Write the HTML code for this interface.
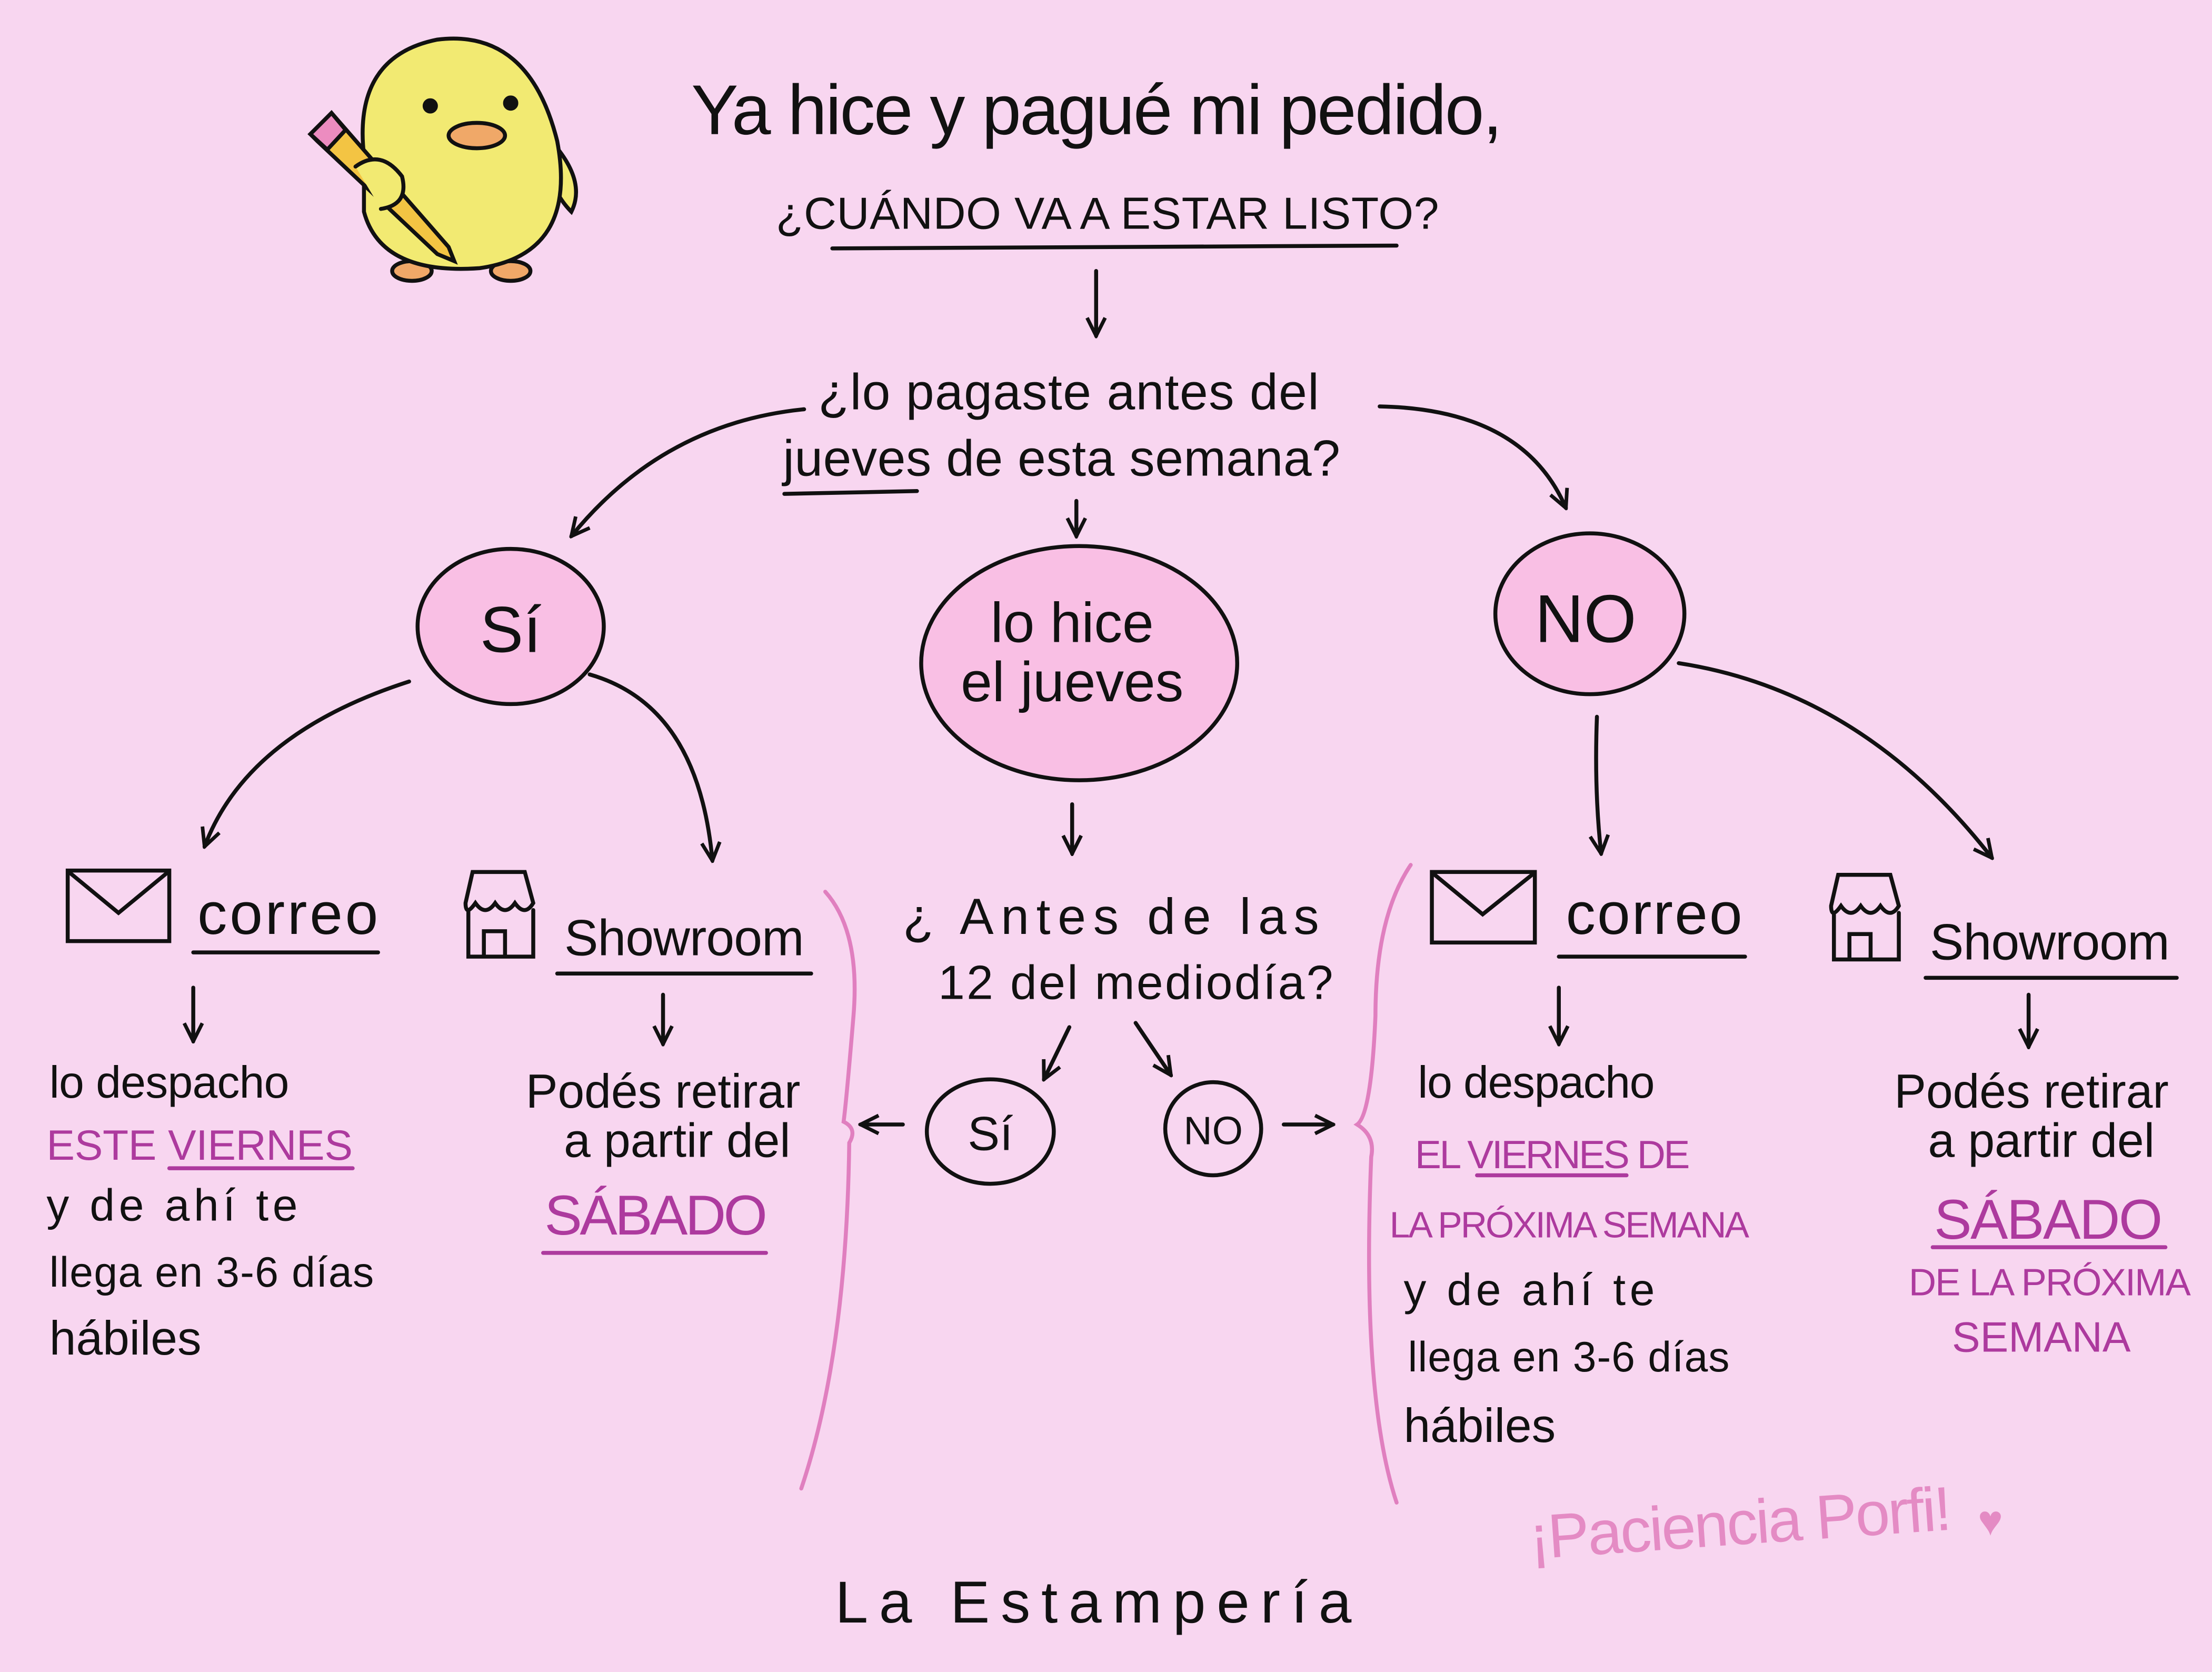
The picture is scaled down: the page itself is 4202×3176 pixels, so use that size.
<!DOCTYPE html>
<html><head><meta charset="utf-8"><style>
html,body{margin:0;padding:0;background:#f8d6f0;}
svg{display:block;}
text{font-family:"Liberation Sans",sans-serif;fill:#111;}
.p{fill:#ad3a9e;}
</style></head><body>
<svg width="4202" height="3176" viewBox="0 0 1568 1185" xmlns="http://www.w3.org/2000/svg">
<rect width="1568" height="1185" fill="#f8d6f0"/>
<defs><marker id="a" viewBox="0 0 10 10" refX="9" refY="5" markerWidth="16" markerHeight="16" orient="auto-start-reverse" markerUnits="userSpaceOnUse"><path d="M1,1 L9,5 L1,9" fill="none" stroke="#111" stroke-width="1.6"/></marker></defs>
<g fill="none" stroke="#111" stroke-width="2.8" stroke-linecap="round">
<!-- duck -->
<ellipse cx="292" cy="192" rx="14" ry="7" fill="#f0a868"/>
<ellipse cx="362" cy="192" rx="14" ry="7" fill="#f0a868"/>
<path d="M395,105 Q415,130 405,150 Q395,140 390,125Z" fill="#f2ea72"/>
<path d="M258,110 Q250,40 310,28 Q375,20 395,100 Q410,180 340,190 Q270,195 258,150Z" fill="#f2ea72"/>
<circle cx="305" cy="75" r="4" fill="#111"/><circle cx="362" cy="73" r="4" fill="#111"/>
<ellipse cx="338" cy="96" rx="20" ry="9" fill="#f0a868"/>
<path d="M220,95 L235,80 L318,175 L322,185 L310,180 L225,100Z" fill="#f3c443"/>
<path d="M220,95 L235,80 L245,92 L232,106Z" fill="#ec8cc0"/>
<path d="M252,118 Q270,105 285,125 Q290,145 270,148" fill="#f2ea72"/>
<!-- connectors -->
<line x1="590" y1="176" x2="990" y2="174"/>
<line x1="777" y1="192" x2="777" y2="238" marker-end="url(#a)"/>
<line x1="556" y1="350" x2="650" y2="348"/>
<path d="M570,290 Q470,300 405,380" marker-end="url(#a)"/>
<path d="M978,288 Q1080,290 1110,360" marker-end="url(#a)"/>
<line x1="763" y1="355" x2="763" y2="380" marker-end="url(#a)"/>
<ellipse cx="362" cy="444" rx="66" ry="55" fill="#f9bfe4"/>
<ellipse cx="765" cy="470" rx="112" ry="83" fill="#f9bfe4"/>
<ellipse cx="1127" cy="435" rx="67" ry="57" fill="#f9bfe4"/>
<path d="M290,483 Q175,520 145,600" marker-end="url(#a)"/>
<path d="M418,478 Q495,500 505,610" marker-end="url(#a)"/>
<line x1="760" y1="570" x2="760" y2="605" marker-end="url(#a)"/>
<path d="M1132,508 Q1130,560 1135,605" marker-end="url(#a)"/>
<path d="M1190,470 Q1320,490 1412,608" marker-end="url(#a)"/>
<!-- icons -->
<rect x="48" y="617" width="72" height="50"/><path d="M50,619 L84,647 L118,619"/>
<rect x="1015" y="618" width="73" height="50"/><path d="M1017,620 L1051,648 L1086,620"/>
<path d="M330,640 L335,618 L372,618 L378,640 Q372,650 365,640 Q358,650 351,640 Q344,650 337,640 Q330,650 330,640Z M332,645 L332,678 L378,678 L378,645 M343,678 L343,660 L358,660 L358,678"/>
<path d="M1298,642 L1303,620 L1340,620 L1346,642 Q1340,652 1333,642 Q1326,652 1319,642 Q1312,652 1305,642 Q1298,652 1298,642Z M1300,647 L1300,680 L1346,680 L1346,647 M1311,680 L1311,662 L1326,662 L1326,680"/>
<line x1="137" y1="675" x2="268" y2="675"/>
<line x1="395" y1="690" x2="575" y2="690"/>
<line x1="1105" y1="678" x2="1237" y2="678"/>
<line x1="1365" y1="693" x2="1543" y2="693"/>
<line x1="137" y1="700" x2="137" y2="738" marker-end="url(#a)"/>
<line x1="470" y1="705" x2="470" y2="740" marker-end="url(#a)"/>
<line x1="1105" y1="700" x2="1105" y2="740" marker-end="url(#a)"/>
<line x1="1438" y1="705" x2="1438" y2="742" marker-end="url(#a)"/>
<path d="M758,728 L740,765" marker-end="url(#a)"/>
<path d="M805,725 L830,762" marker-end="url(#a)"/>
<ellipse cx="702" cy="802" rx="45" ry="37"/>
<ellipse cx="860" cy="800" rx="34" ry="33"/>
<line x1="640" y1="797" x2="610" y2="797" marker-end="url(#a)"/>
<line x1="910" y1="797" x2="945" y2="797" marker-end="url(#a)"/>
</g>
<g fill="none" stroke="#e07fbf" stroke-width="2.8" stroke-linecap="round">
<path d="M585,632 Q610,660 605,720 Q600,780 598,795 Q608,800 602,810 Q600,960 568,1055"/>
<path d="M1000,613 Q975,650 975,720 Q972,790 962,797 Q975,805 972,820 Q965,990 990,1065"/>
<line x1="120" y1="828" x2="250" y2="828" stroke="#ad3a9e"/>
<line x1="385" y1="888" x2="543" y2="888" stroke="#ad3a9e"/>
<line x1="1047" y1="833" x2="1153" y2="833" stroke="#ad3a9e"/>
<line x1="1370" y1="884" x2="1535" y2="884" stroke="#ad3a9e"/>
</g>
<text x="490" y="95" font-size="50" textLength="575">Ya hice y pagué mi pedido,</text>
<text x="550" y="162" font-size="32" textLength="470">¿CUÁNDO VA A ESTAR LISTO?</text>
<text x="580" y="290" font-size="36" textLength="355">¿lo pagaste antes del</text>
<text x="555" y="337" font-size="36" textLength="395">jueves de esta semana?</text>
<text x="362" y="462" font-size="46" text-anchor="middle">Sí</text>
<text x="760" y="455" font-size="40" text-anchor="middle">lo hice</text>
<text x="760" y="497" font-size="40" text-anchor="middle">el jueves</text>
<text x="1124" y="455" font-size="48" text-anchor="middle">NO</text>
<text x="140" y="662" font-size="42" textLength="128">correo</text>
<text x="400" y="677" font-size="36" textLength="170">Showroom</text>
<text x="1110" y="662" font-size="42" textLength="125">correo</text>
<text x="1368" y="680" font-size="36" textLength="170">Showroom</text>
<text x="640" y="662" font-size="36" textLength="295">¿ Antes de las</text>
<text x="665" y="708" font-size="34" textLength="280">12 del mediodía?</text>
<text x="702" y="815" font-size="34" text-anchor="middle">Sí</text>
<text x="860" y="811" font-size="28" text-anchor="middle">NO</text>
<text x="35" y="778" font-size="32" textLength="170">lo despacho</text>
<text x="33" y="822" font-size="30" class="p" textLength="217">ESTE VIERNES</text>
<text x="33" y="865" font-size="32" textLength="178">y de ahí te</text>
<text x="35" y="912" font-size="30" textLength="230">llega en 3-6 días</text>
<text x="35" y="960" font-size="34">hábiles</text>
<text x="470" y="785" font-size="34" text-anchor="middle">Podés retirar</text>
<text x="480" y="820" font-size="34" text-anchor="middle">a partir del</text>
<text x="465" y="875" font-size="40" class="p" text-anchor="middle" textLength="158">SÁBADO</text>
<text x="1005" y="778" font-size="32" textLength="168">lo despacho</text>
<text x="1003" y="828" font-size="28" class="p" textLength="195">EL VIERNES DE</text>
<text x="985" y="877" font-size="26" class="p" textLength="255">LA PRÓXIMA SEMANA</text>
<text x="995" y="925" font-size="32" textLength="178">y de ahí te</text>
<text x="998" y="972" font-size="30" textLength="228">llega en 3-6 días</text>
<text x="995" y="1022" font-size="34">hábiles</text>
<text x="1440" y="785" font-size="34" text-anchor="middle">Podés retirar</text>
<text x="1447" y="820" font-size="34" text-anchor="middle">a partir del</text>
<text x="1452" y="878" font-size="40" class="p" text-anchor="middle" textLength="162">SÁBADO</text>
<text x="1453" y="918" font-size="27" class="p" text-anchor="middle" textLength="200">DE LA PRÓXIMA</text>
<text x="1447" y="958" font-size="30" class="p" text-anchor="middle">SEMANA</text>
<text x="1085" y="1105" font-size="44" style="fill:#e48bc4" transform="rotate(-4 1085 1105)" textLength="300">¡Paciencia Porfi!</text>
<text x="1402" y="1088" font-size="30" style="fill:#e48bc4">♥</text>
<text x="592" y="1150" font-size="42" textLength="366">La Estampería</text>
</svg>
</body></html>
